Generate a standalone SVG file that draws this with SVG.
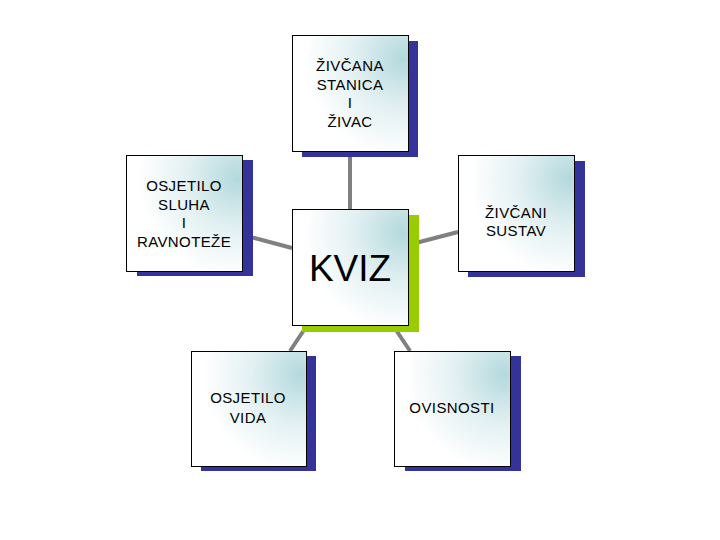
<svg xmlns="http://www.w3.org/2000/svg" width="720" height="540" viewBox="0 0 720 540">
<defs>
<radialGradient id="g" cx="0.95" cy="0.2" r="0.85">
<stop offset="0" stop-color="#b3d9dd"/>
<stop offset="0.5" stop-color="#e2f0f2"/>
<stop offset="1" stop-color="#ffffff"/>
</radialGradient>
<style>
.f{fill:url(#g);stroke:#000;stroke-width:1}
.s{fill:#333399}
.sg{fill:#99cc00}
.t{font-family:"Liberation Sans",Arial,sans-serif;font-size:15px;letter-spacing:0.4px;text-anchor:middle;fill:#000}
.k{font-family:"Liberation Sans",Arial,sans-serif;font-size:37px;text-anchor:middle;fill:#000}
.c{stroke:#808080;stroke-width:4;fill:none}
</style>
</defs>
<rect width="720" height="540" fill="#fff"/>
<g id="connectors">
<line class="c" x1="350" y1="151" x2="350" y2="209"/>
<line class="c" x1="243" y1="235" x2="292" y2="248"/>
<line class="c" x1="408" y1="245" x2="458" y2="232"/>
<line class="c" x1="304" y1="330" x2="290" y2="351"/>
<line class="c" x1="396" y1="330" x2="410" y2="351"/>
</g>
<g id="zivcana">
<rect class="s" x="302" y="41" width="116" height="116"/>
<rect class="f" x="292.5" y="35.5" width="116" height="116"/>
<text class="t" x="350" y="71">ŽIVČANA</text>
<text class="t" x="350" y="90">STANICA</text>
<text class="t" x="350" y="108">I</text>
<text class="t" x="350" y="127">ŽIVAC</text>
</g>
<g id="sluha">
<rect class="s" x="137" y="160" width="116" height="116"/>
<rect class="f" x="126.5" y="155.5" width="116" height="116"/>
<text class="t" x="184" y="191">OSJETILO</text>
<text class="t" x="184" y="210">SLUHA</text>
<text class="t" x="184" y="228">I</text>
<text class="t" x="184" y="247">RAVNOTEŽE</text>
</g>
<g id="kviz">
<rect class="sg" x="302" y="215" width="117" height="117"/>
<rect class="f" x="292.5" y="209.5" width="116" height="116"/>
<text class="k" x="350" y="281">KVIZ</text>
</g>
<g id="sustav">
<rect class="s" x="468" y="161" width="117" height="116"/>
<rect class="f" x="458.5" y="155.5" width="116" height="116"/>
<text class="t" x="516" y="218">ŽIVČANI</text>
<text class="t" x="516" y="236">SUSTAV</text>
</g>
<g id="vida">
<rect class="s" x="201" y="356" width="115" height="115"/>
<rect class="f" x="191.5" y="351.5" width="115" height="115"/>
<text class="t" x="248" y="403">OSJETILO</text>
<text class="t" x="248" y="423">VIDA</text>
</g>
<g id="ovisnosti">
<rect class="s" x="405" y="356" width="116" height="115"/>
<rect class="f" x="394.5" y="351.5" width="116" height="115"/>
<text class="t" x="452" y="413">OVISNOSTI</text>
</g>
</svg>
